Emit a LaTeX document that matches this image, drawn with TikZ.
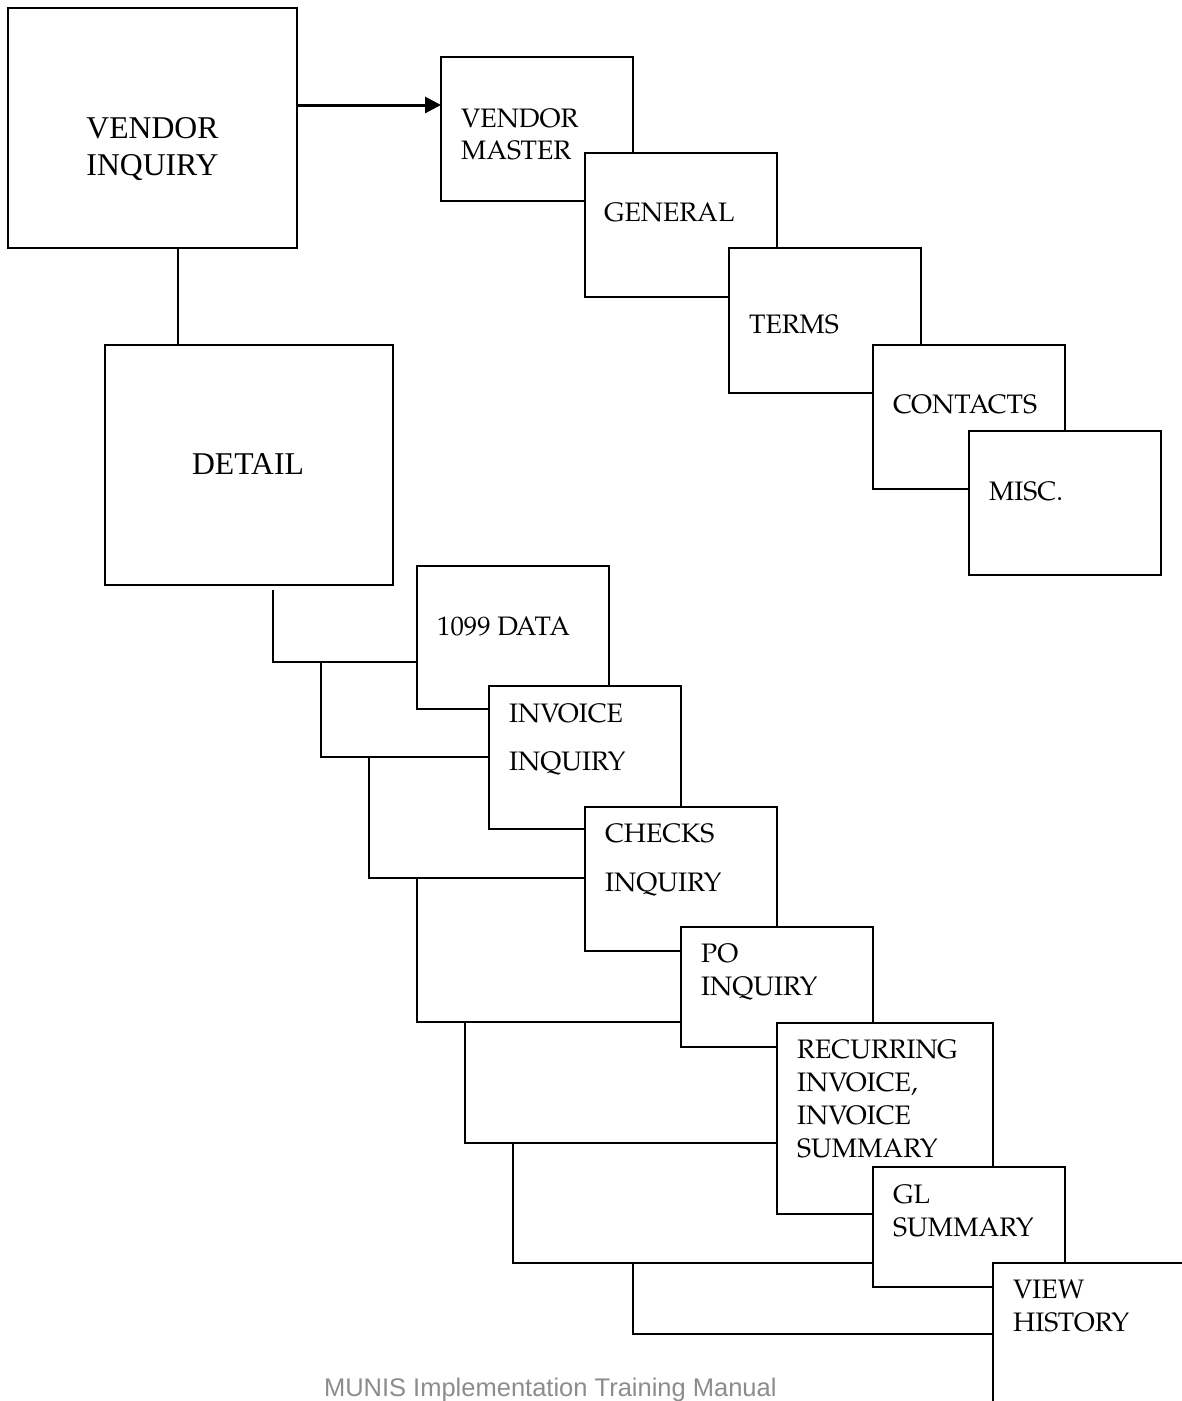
\documentclass[tikz,border=0pt]{standalone}
\usepackage{fontspec}
\newfontfamily\palfam{TeX Gyre Pagella}
\newfontfamily\timesfam{Liberation Serif}
\newfontfamily\helvfam{Liberation Sans}
\usetikzlibrary{arrows.meta}
\newcommand\palfont{\palfam\fontsize{26.7}{32}\selectfont}
\newcommand\bigfont{\timesfam\fontsize{31.7}{38}\selectfont}
\newcommand\footfont{\helvfam\fontsize{25.5}{30}\selectfont}
\definecolor{footgray}{RGB}{140,140,140}
\begin{document}
\begin{tikzpicture}[x=1pt,y=-1pt,
  box/.style={draw=black, line width=2pt, fill=white, inner sep=0pt, outer sep=0pt, anchor=north west},
  lbl/.style={font=\palfont, inner sep=0pt, anchor=base west},
  bigl/.style={font=\bigfont, inner sep=0pt, anchor=base},
  conn/.style={draw=black, line width=2pt},
  arrowline/.style={draw=black, line width=3pt, -{Triangle[length=16pt,width=16pt]}}]
\useasboundingbox (0,0) rectangle (1182,1401);

% top-left
\node[box, minimum width=289pt, minimum height=240pt] (vi) at (8,8) {};
\node[bigl] (viA) at (152.5,138) {VENDOR};
\node[bigl] (viB) at (152.5,175) {INQUIRY};

% vendor master chain
\node[box, minimum width=192pt, minimum height=144pt] (vm) at (441,57) {};
\node[lbl] (vmA) at (461,127) {VENDOR};
\node[lbl] (vmB) at (461,159) {MASTER};
\coordinate (ar) at (0,105);
\draw[arrowline] (vi.east |- ar) -- (vm.west |- ar);

\node[box, minimum width=192pt, minimum height=144pt] (gen) at (585,153) {};
\node[lbl] (genA) at (604,221.5) {GENERAL};

\node[box, minimum width=192pt, minimum height=145pt] (terms) at (729,248) {};
\node[lbl] (termsA) at (749,333) {TERMS};

\node[box, minimum width=192pt, minimum height=144pt] (cont) at (873,345) {};
\node[lbl] (contA) at (893,413) {CONTACTS};

\node[box, minimum width=192pt, minimum height=144pt] (misc) at (969,431) {};
\node[lbl] (miscA) at (989,500) {MISC.};

% detail
\node[box, minimum width=288.5pt, minimum height=240.5pt] (det) at (104.5,344.5) {};
\node[bigl] (detA) at (248,474) {DETAIL};
\coordinate (vd) at (177.5,0);
\draw[conn] (vi.south -| vd) -- (det.north -| vd);

% lower chain
\node[box, minimum width=192pt, minimum height=143pt] (d1099) at (417,566) {};
\node[lbl] (d1099A) at (437,635) {1099 DATA};

\node[box, minimum width=192pt, minimum height=143pt] (inv) at (489,686) {};
\node[lbl] (invA) at (509,722) {INVOICE};
\node[lbl] (invB) at (509,770.5) {INQUIRY};

\node[box, minimum width=192pt, minimum height=144pt] (chk) at (585,807) {};
\node[lbl] (chkA) at (605,842.5) {CHECKS};
\node[lbl] (chkB) at (605,891.5) {INQUIRY};

\node[box, minimum width=192pt, minimum height=120pt] (po) at (681,927) {};
\node[lbl] (poA) at (701,962.5) {PO};
\node[lbl] (poB) at (701,995) {INQUIRY};

\node[box, minimum width=216pt, minimum height=191pt] (rec) at (777,1023) {};
\node[lbl] (recA) at (797,1058.3) {RECURRING};
\node[lbl] (recB) at (797,1091.5) {INVOICE,};
\node[lbl] (recC) at (797,1124.5) {INVOICE};
\node[lbl] (recD) at (797,1157.5) {SUMMARY};

\node[box, minimum width=192pt, minimum height=120pt] (gl) at (873,1167) {};
\node[lbl] (glA) at (893,1203.3) {GL};
\node[lbl] (glB) at (893,1236) {SUMMARY};

\node[box, draw=none, minimum width=200pt, minimum height=150pt] (vh) at (993,1263) {};
\draw[conn] (vh.north east) -- (vh.north west) -- (vh.south west);
\node[lbl] (vhA) at (1013,1298.3) {VIEW};
\node[lbl] (vhB) at (1013,1331.7) {HISTORY};

% connectors from detail
\coordinate (s1) at (272.7,590);   \coordinate (h1) at (0,662);
\coordinate (s2) at (320.7,662);   \coordinate (h2) at (0,757.3);
\coordinate (s3) at (369,757.3);   \coordinate (h3) at (0,878);
\coordinate (s4) at (416.7,878);   \coordinate (h4) at (0,1021.7);
\coordinate (s5) at (465,1021.7);  \coordinate (h5) at (0,1142.7);
\coordinate (s6) at (513,1142.7);  \coordinate (h6) at (0,1262.7);
\coordinate (s7) at (632.7,1262.7);\coordinate (h7) at (0,1334.3);
\draw[conn] (s1) |- (d1099.west |- h1);
\draw[conn] (s2) |- (inv.west |- h2);
\draw[conn] (s3) |- (chk.west |- h3);
\draw[conn] (s4) |- (po.west |- h4);
\draw[conn] (s5) |- (rec.west |- h5);
\draw[conn] (s6) |- (gl.west |- h6);
\draw[conn] (s7) |- (vh.west |- h7);

% footer
\node[font=\footfont, text=footgray, inner sep=0pt, anchor=base] (foot) at (550.3,1396.7) {MUNIS Implementation Training Manual};
\end{tikzpicture}
\end{document}
